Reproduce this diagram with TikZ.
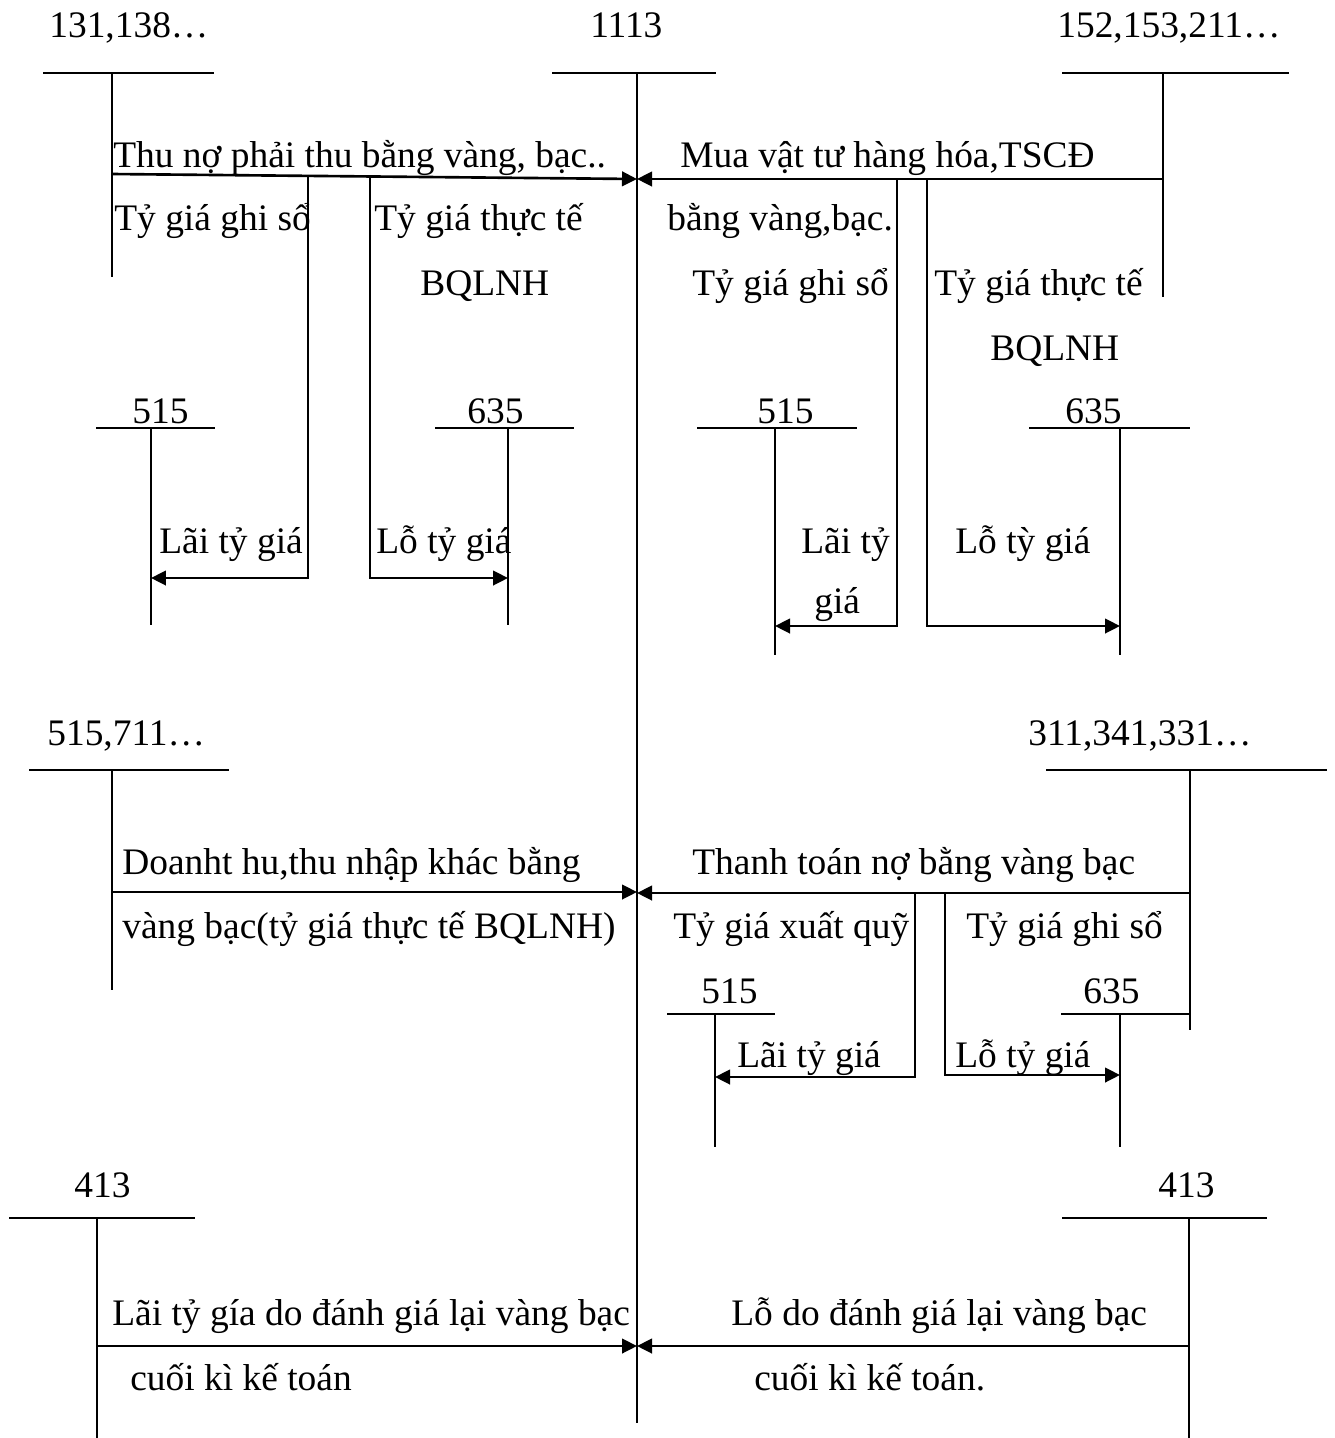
\documentclass[tikz,border=0pt]{standalone}
\usepackage{fontspec}
\setmainfont{Liberation Serif}
\usetikzlibrary{arrows.meta}

\tikzset{
  txt/.style={anchor=base west, inner sep=0pt, font=\fontsize{21.3pt}{25pt}\selectfont},
  tacc/.style={line width=1pt},
  flow/.style={line width=1.5pt, -{Triangle[length=3mm,width=2.9mm]}}
}

\begin{document}
\begin{tikzpicture}[x=0.02cm, y=-0.02cm]
\useasboundingbox (0,0) rectangle (1335,1438);

\begin{scope}[tacc]
% T accounts, top row (131, 1113, 152)
\draw (43,73) -- (214,73) (112,73) -- (112,277);
\draw (552,73) -- (716,73);
\draw[line width=1.2pt] (637,73) -- (637,1423);
\draw (1062,73) -- (1289,73) (1163,73) -- (1163,297);
% T accounts 515 / 635 under the first row
\draw (96,428) -- (215,428) (151,428) -- (151,625);
\draw (435,428) -- (574,428) (508,428) -- (508,625);
\draw (697,428) -- (857,428) (775,428) -- (775,655);
\draw (1029,428) -- (1190,428) (1120,428) -- (1120,655);
% T accounts, middle row (515,711 and 311)
\draw (29,770) -- (229,770) (112,770) -- (112,990);
\draw (1046,770) -- (1327,770) (1190,770) -- (1190,1030);
\draw (667,1014) -- (775,1014) (715,1014) -- (715,1147);
\draw (1061,1014) -- (1190,1014) (1120,1014) -- (1120,1147);
% T accounts, bottom row (413)
\draw (9,1218) -- (195,1218) (97,1218) -- (97,1438);
\draw (1062,1218) -- (1267,1218) (1189,1218) -- (1189,1438);
\end{scope}

% Account labels
\node[txt] (l131) at (49,37) {131,138…};
\node[txt] (l1113) at (590,37) {1113};
\node[txt] (l152) at (1057,37) {152,153,211…};
\node[txt] (l515a) at (132,423) {515};
\node[txt] (l635a) at (467,423) {635};
\node[txt] (l515b) at (757,423) {515};
\node[txt] (l635b) at (1065,423) {635};
\node[txt] (l515c) at (47,745) {515,711…};
\node[txt] (l311) at (1028,745) {311,341,331…};
\node[txt] (l515d) at (701,1003) {515};
\node[txt] (l635d) at (1083,1003) {635};
\node[txt] (l413a) at (74,1197) {413};
\node[txt] (l413b) at (1158,1197) {413};

% Connector end points
\coordinate (sA) at (112,174);
\coordinate (tA) at (637,179);
\coordinate (sB) at (1163,179);
\coordinate (tB) at (637,179);
\coordinate (bA1) at (308,176);
\coordinate (eA1) at (151,578);
\coordinate (bA2) at (370,177);
\coordinate (eA2) at (508,578);
\coordinate (bB1) at (897,179);
\coordinate (eB1) at (775,626);
\coordinate (bB2) at (927,179);
\coordinate (eB2) at (1120,626);
\coordinate (sC) at (112,892);
\coordinate (tC) at (637,892);
\coordinate (sD) at (1190,893);
\coordinate (tD) at (637,893);
\coordinate (bD1) at (915,893);
\coordinate (eD1) at (715,1077);
\coordinate (bD2) at (945,893);
\coordinate (eD2) at (1120,1075);
\coordinate (sE) at (97,1346);
\coordinate (tE) at (637,1346);
\coordinate (sF) at (1189,1346);
\coordinate (tF) at (637,1346);

\begin{scope}[flow]
% Into 1113
\draw (sA) -- (tA);
\draw (sB) -- (tB);
\draw (sC) -- (tC);
\draw (sD) -- (tD);
\draw (sE) -- (tE);
\draw (sF) -- (tF);
% Exchange differences
\draw (bA1) |- (eA1);
\draw (bA2) |- (eA2);
\draw (bB1) |- (eB1);
\draw (bB2) |- (eB2);
\draw (bD1) |- (eD1);
\draw (bD2) |- (eD2);
\end{scope}

% Texts on the connectors
\node[txt] (tx1) at (113,167) {Thu nợ phải thu bằng vàng, bạc..};
\node[txt] (tx2) at (680,167) {Mua vật tư hàng hóa,TSCĐ};
\node[txt] (tx3) at (114,230) {Tỷ giá ghi sổ};
\node[txt] (tx4) at (374,230) {Tỷ giá thực tế};
\node[txt] (tx5) at (420,295) {BQLNH};
\node[txt] (tx6) at (667,230) {bằng vàng,bạc.};
\node[txt] (tx7) at (692,295) {Tỷ giá ghi sổ};
\node[txt] (tx8) at (934,295) {Tỷ giá thực tế};
\node[txt] (tx9) at (990,360) {BQLNH};
\node[txt] (tx10) at (159,553) {Lãi tỷ giá};
\node[txt] (tx11) at (376,553) {Lỗ tỷ giá};
\node[txt] (tx12) at (801,553) {Lãi tỷ};
\node[txt] (tx13) at (814,613) {giá};
\node[txt] (tx14) at (955,553) {Lỗ tỳ giá};
\node[txt] (tx15) at (122,874) {Doanht hu,thu nhập khác bằng};
\node[txt] (tx16) at (122,938) {vàng bạc(tỷ giá thực tế BQLNH)};
\node[txt] (tx17) at (692,874) {Thanh toán nợ bằng vàng bạc};
\node[txt] (tx18) at (673,938) {Tỷ giá xuất quỹ};
\node[txt] (tx19) at (966,938) {Tỷ giá ghi sổ};
\node[txt] (tx20) at (737,1067) {Lãi tỷ giá};
\node[txt] (tx21) at (955,1067) {Lỗ tỷ giá};
\node[txt] (tx22) at (112,1325) {Lãi tỷ gía do đánh giá lại vàng bạc};
\node[txt] (tx23) at (130,1390) {cuối kì kế toán};
\node[txt] (tx24) at (731,1325) {Lỗ do đánh giá lại vàng bạc};
\node[txt] (tx25) at (754,1390) {cuối kì kế toán.};

\end{tikzpicture}
\end{document}
